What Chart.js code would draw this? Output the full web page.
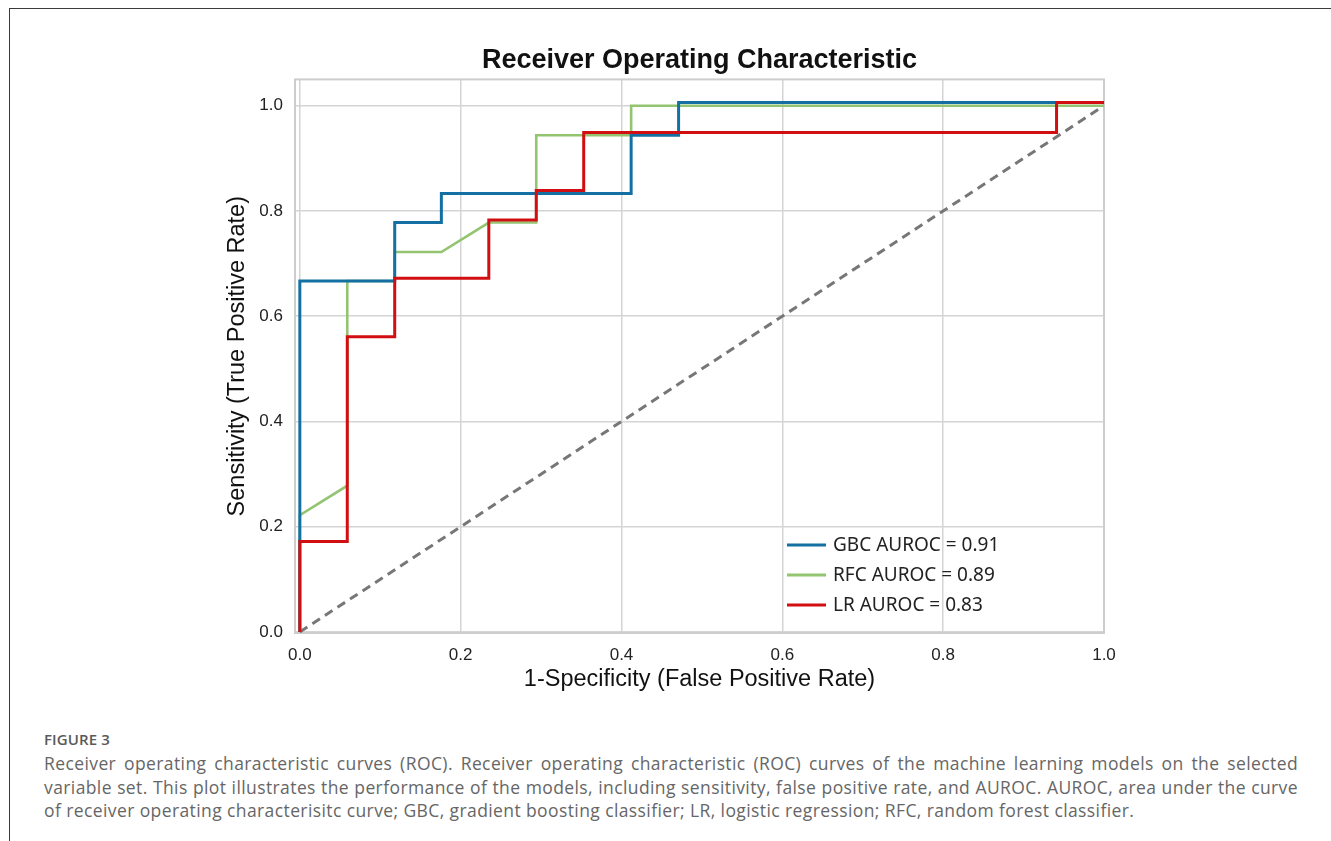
<!DOCTYPE html>
<html>
<head>
<meta charset="utf-8">
<script src="https://cdn.jsdelivr.net/npm/chart.js@4/dist/chart.umd.min.js"></script>
<style>
  body { margin: 0; background: #fff; width: 1331px; height: 841px; overflow: hidden; position: relative; }
  #box { position: absolute; left: 9px; top: 8px; right: -2px; bottom: -2px; border-top: 1px solid #3a3a3a; border-left: 1px solid #3a3a3a; }
  #wrap { position: absolute; left: 0; top: 0; width: 1331px; height: 720px; }
  #caption { position: absolute; left: 44px; top: 729px; width: 1254px; font-family: "Open Sans", "Noto Sans", sans-serif; color: #666; }
  #caption .fig { font-size: 15px; font-weight: 600; color: #5a5a5a; letter-spacing: 0.1px; margin-bottom: 3px; }
  #caption .ln { font-size: 17.5px; font-weight: 400; letter-spacing: 0.4px; line-height: 23.5px; text-align: justify; text-align-last: justify; white-space: nowrap; }
  #caption .ln.last { text-align-last: left; }
</style>
</head>
<body>
<div id="box"></div>
<div id="wrap"><canvas id="roc" width="1331" height="720"></canvas></div>
<div id="caption">
  <div class="fig">FIGURE 3</div>
  <div class="ln">Receiver operating characteristic curves (ROC). Receiver operating characteristic (ROC) curves of the machine learning models on the selected</div>
  <div class="ln">variable set. This plot illustrates the performance of the models, including sensitivity, false positive rate, and AUROC. AUROC, area under the curve</div>
  <div class="ln last">of receiver operating characterisitc curve; GBC, gradient boosting classifier; LR, logistic regression; RFC, random forest classifier.</div>
</div>
<script>
// ROC points (FPR, TPR)
var gbcX = [0, 0, 0.118, 0.118, 0.176, 0.176, 0.412, 0.412, 0.471, 0.471, 1.0];
var gbcY = [0, 0.667, 0.667, 0.778, 0.778, 0.833, 0.833, 0.944, 0.944, 1.006, 1.006];

var rfcX = [0, 0, 0.059, 0.059, 0.118, 0.118, 0.176, 0.235, 0.294, 0.294, 0.412, 0.412, 1.0];
var rfcY = [0, 0.222, 0.278, 0.667, 0.667, 0.722, 0.722, 0.778, 0.778, 0.944, 0.944, 1.0, 1.0];

var lrX = [0, 0, 0.059, 0.059, 0.118, 0.118, 0.235, 0.235, 0.294, 0.294, 0.353, 0.353, 0.941, 0.941, 1.0];
var lrY = [0, 0.172, 0.172, 0.561, 0.561, 0.672, 0.672, 0.783, 0.783, 0.839, 0.839, 0.949, 0.949, 1.006, 1.006];

var chanceX = [0, 1];
var chanceY = [0, 1];

var xTicks = [0, 0.2, 0.4, 0.6, 0.8, 1.0];
var yTicks = [0, 0.2, 0.4, 0.6, 0.8, 1.0];

var legendLabels = ['GBC AUROC = 0.91', 'RFC AUROC = 0.89', 'LR AUROC = 0.83'];
var colors = ['#1470a2', '#93c470', '#d10f12'];

function pts(xs, ys) {
  return xs.map(function (x, i) { return { x: x, y: ys[i] }; });
}

// plot frame + in-axes legend (no box, like the figure)
var framePlugin = {
  id: 'frame',
  beforeDatasetsDraw: function (chart) {
    var a = chart.chartArea, ctx = chart.ctx;
    ctx.save();
    ctx.strokeStyle = '#cdcdcd';
    ctx.lineWidth = 2;
    ctx.strokeRect(a.left, a.top, a.right - a.left, a.bottom - a.top);
    ctx.restore();
  },
  afterDatasetsDraw: function (chart) {
    var a = chart.chartArea, ctx = chart.ctx;
    ctx.save();
    ctx.font = '19px "Noto Sans", "Open Sans", sans-serif';
    ctx.textBaseline = 'middle';
    ctx.fillStyle = '#222';
    for (var i = 0; i < legendLabels.length; i++) {
      var y = a.bottom - 88 + i * 30;
      ctx.strokeStyle = colors[i];
      ctx.lineWidth = 3;
      ctx.beginPath();
      ctx.moveTo(a.right - 317, y);
      ctx.lineTo(a.right - 278, y);
      ctx.stroke();
      ctx.fillText(legendLabels[i], a.right - 271, y + 1);
    }
    ctx.restore();
  }
};

var ctx = document.getElementById('roc').getContext('2d');
var rocChart = new Chart(ctx, {
  type: 'scatter',
  data: {
    datasets: [
      { label: legendLabels[0], data: pts(gbcX, gbcY), borderColor: colors[0], borderWidth: 3, order: 1 },
      { label: legendLabels[1], data: pts(rfcX, rfcY), borderColor: colors[1], borderWidth: 2.6, order: 2 },
      { label: legendLabels[2], data: pts(lrX, lrY), borderColor: colors[2], borderWidth: 3, order: 0 },
      { label: 'chance', data: pts(chanceX, chanceY), borderColor: '#777777', borderWidth: 3, borderDash: [9, 6], order: 3 }
    ]
  },
  options: {
    responsive: false,
    devicePixelRatio: 1,
    animation: false,
    datasets: {
      scatter: { showLine: true, pointRadius: 0, pointHoverRadius: 0, tension: 0, fill: false }
    },
    layout: { padding: { left: 195, right: 227, top: 0, bottom: 0 } },
    plugins: {
      legend: { display: false },
      tooltip: { enabled: false },
      title: {
        display: true,
        fullSize: false,
        text: 'Receiver Operating Characteristic',
        color: '#111',
        font: { family: '"Liberation Sans", Arial, sans-serif', size: 27, weight: 'bold' },
        padding: { top: 44, bottom: 3 }
      }
    },
    scales: {
      x: {
        type: 'linear',
        min: -0.006,
        max: 1.0,
        afterBuildTicks: function (s) { s.ticks = xTicks.map(function (v) { return { value: v }; }); },
        afterFit: function (s) { s.height = 87; },
        grid: { color: '#d4d4d4', lineWidth: 1.5, drawTicks: false },
        border: { display: false },
        ticks: {
          padding: 12,
          color: '#222',
          font: { family: '"Liberation Sans", Arial, sans-serif', size: 17 },
          callback: function (v) { return v.toFixed(1); }
        },
        title: {
          display: true,
          text: '1-Specificity (False Positive Rate)',
          color: '#111',
          font: { family: '"Liberation Sans", Arial, sans-serif', size: 23.5 },
          padding: { top: 0, bottom: 26 }
        }
      },
      y: {
        type: 'linear',
        min: -0.002,
        max: 1.05,
        afterBuildTicks: function (s) { s.ticks = yTicks.map(function (v) { return { value: v }; }); },
        afterFit: function (s) { s.width = 100; },
        grid: { color: '#d4d4d4', lineWidth: 1.5, drawTicks: false },
        border: { display: false },
        ticks: {
          padding: 12,
          color: '#222',
          font: { family: '"Liberation Sans", Arial, sans-serif', size: 17 },
          callback: function (v) { return v.toFixed(1); }
        },
        title: {
          display: true,
          text: 'Sensitivity (True Positive Rate)',
          color: '#111',
          font: { family: '"Liberation Sans", Arial, sans-serif', size: 23.5 },
          padding: { top: 28, bottom: 0 }
        }
      }
    }
  },
  plugins: [framePlugin]
});
</script>
</body>
</html>
